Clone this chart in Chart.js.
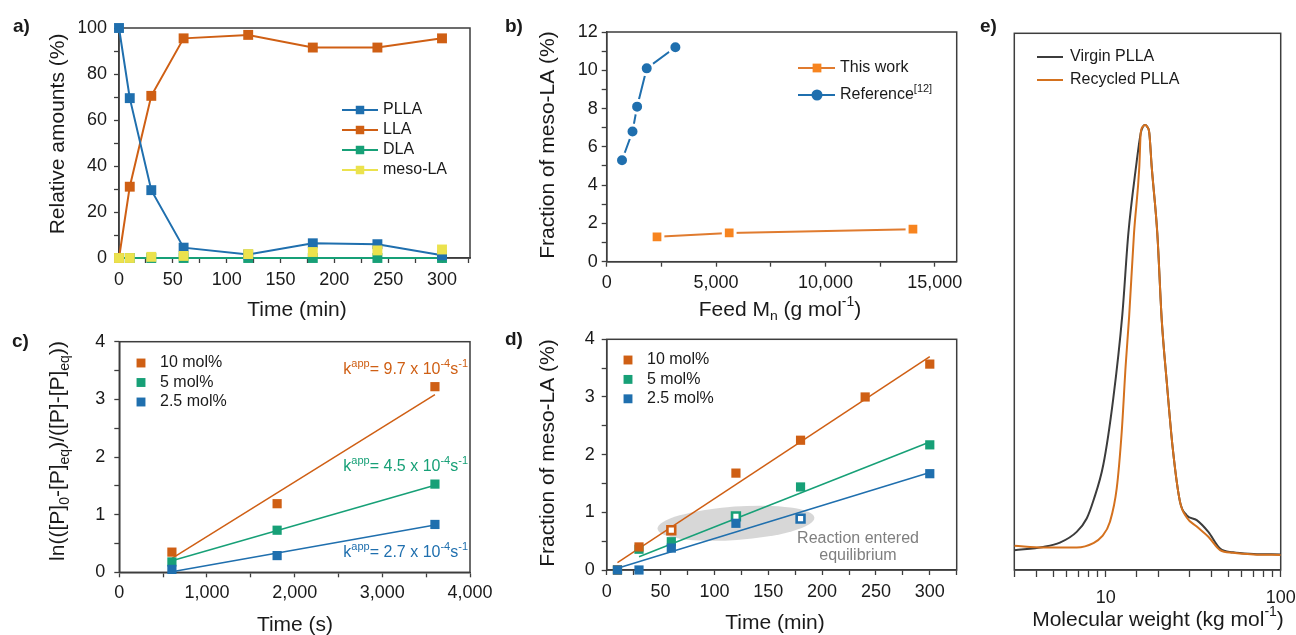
<!DOCTYPE html>
<html>
<head>
<meta charset="utf-8">
<script src="https://cdn.jsdelivr.net/npm/chart.js@4/dist/chart.umd.min.js"></script>
<style>
  html, body { margin: 0; padding: 0; background: #fff; }
  #wrap { position: relative; width: 1296px; height: 635px; overflow: hidden; }
  canvas { position: absolute; }
</style>
</head>
<body>
<div id="wrap">
  <canvas id="pa" width="500" height="320" style="left:0;top:0"></canvas>
  <canvas id="pb" width="500" height="320" style="left:480px;top:0"></canvas>
  <canvas id="pc" width="500" height="315" style="left:0;top:320px"></canvas>
  <canvas id="pd" width="500" height="315" style="left:480px;top:320px"></canvas>
  <canvas id="pe" width="336" height="635" style="left:960px;top:0"></canvas>
</div>
<script>
// a) depolymerisation over time
var a_time = [0, 10, 30, 60, 120, 180, 240, 300];
var a_plla = [100, 69.5, 29.5, 4.5, 1.5, 6.4, 6, 1.2];
var a_lla = [0, 31, 70.5, 95.5, 97, 91.5, 91.5, 95.5];
var a_dla = [0, 0, 0, 0, 0, 0, 0, 0];
var a_meso = [0, 0, 0.5, 0.9, 1.7, 2.6, 3.3, 3.7];

// b) meso-LA vs feed Mn
var b_work_mn = [2300, 5600, 14000];
var b_work_frac = [1.3, 1.5, 1.7];
var b_ref_mn = [700, 1180, 1390, 1830, 3140];
var b_ref_frac = [5.3, 6.8, 8.1, 10.1, 11.2];

// c) kinetics
var c_time = [600, 1800, 3600];
var c_10 = [0.35, 1.19, 3.22];
var c_5 = [0.18, 0.73, 1.53];
var c_25 = [0.05, 0.29, 0.83];
var c_fit_time = [600, 3600];
var c_fit10 = [0.24, 3.08];
var c_fit5 = [0.2, 1.51];
var c_fit25 = [0.01, 0.82];

// d) meso-LA over time (hollow = reaction at equilibrium)
var d_time10 = [10, 30, 60, 120, 180, 240, 300];
var d_10 = [0, 0.4, 0.69, 1.68, 2.25, 3.0, 3.57];
var d_hollow10 = [0, 0, 1, 0, 0, 0, 0];
var d_time5 = [10, 30, 60, 120, 180, 300];
var d_5 = [0, 0.36, 0.49, 0.93, 1.44, 2.17];
var d_hollow5 = [0, 0, 0, 1, 0, 0];
var d_time25 = [10, 30, 60, 120, 180, 300];
var d_25 = [0, 0, 0.38, 0.81, 0.89, 1.67];
var d_hollow25 = [0, 0, 0, 0, 1, 0];
var d_fit10_t = [10, 300], d_fit10 = [0.13, 3.7];
var d_fit5_t = [30, 300], d_fit5 = [0.23, 2.22];
var d_fit25_t = [10, 300], d_fit25 = [0.03, 1.69];

// e) GPC traces
var e_mw_virgin = [3.0, 4.39, 5.47, 6.82, 7.78, 8.49, 9.68, 11.04, 12.43, 13.46, 14.89, 15.84, 16.3, 16.76, 17.25, 17.74, 18.31, 19.71, 20.89, 22.31, 24.14, 26.57, 29.02, 33.11, 38.58, 45.0, 53.4, 70, 100];
var e_int_virgin = [3.7, 4.3, 5.1, 7.1, 9.6, 12.9, 19.6, 32, 47.5, 62.7, 75.1, 81.4, 82.6, 82.9, 82.6, 81.4, 75.1, 62.7, 46.6, 35.1, 22.7, 12.7, 10.2, 9.3, 7.1, 4.0, 3.3, 3.0, 2.9];
var e_mw_recycled = [3.0, 4.39, 6.82, 8.49, 9.48, 10.57, 11.55, 12.34, 13.0, 13.6, 14.5, 15.55, 15.84, 16.3, 16.76, 17.25, 17.74, 18.31, 19.71, 20.89, 22.31, 24.14, 26.57, 29.02, 33.11, 38.58, 45.0, 53.4, 70, 100];
var e_int_recycled = [4.5, 4.2, 4.2, 5.0, 6.2, 9.0, 15.2, 25.8, 38.2, 47.2, 62.7, 75.1, 81.4, 82.6, 82.9, 82.6, 81.4, 75.1, 62.7, 46.6, 35.1, 22.7, 12.7, 9.8, 8.1, 6.2, 3.7, 3.2, 2.9, 2.8];

// grey "equilibrium" zone in d), in data units
var eqZone = { x: 120, y: 0.81, rx: 73, ry: 0.29, tilt: -0.07 };

var FONT = '"Liberation Sans", Arial, Helvetica, sans-serif';
var AX = '#3d3d3d';
var TXT = '#1a1a1a';
var BLUE = '#1f6fae', ORANGE = '#cf5f14', GREEN = '#17a077', YELLOW = '#ebe24d';
var B_ORANGE = '#f7841f', B_LINE = '#e07b2f';
var GREY = '#3c3c3c', E_ORANGE = '#d4711e';

function pts(xs, ys) {
  return xs.map(function (x, i) { return { x: x, y: ys[i] }; });
}

function isMajor(v, m) {
  return Math.abs(v / m - Math.round(v / m)) < 1e-6;
}

function linAxis(min, max, step, major, pad, fmt) {
  fmt = fmt || function (v) { return String(v); };
  return {
    type: 'linear', min: min, max: max,
    // tick every `step`, label only on `major`
    afterBuildTicks: function (s) {
      var out = [];
      for (var i = Math.ceil(min / step - 1e-9); i * step <= max + 1e-9; i++) {
        out.push({ value: +(i * step).toFixed(6) });
      }
      s.ticks = out;
    },
    ticks: {
      autoSkip: false, maxRotation: 0, minRotation: 0,
      padding: pad, color: TXT, font: { family: FONT, size: 18 },
      callback: function (v) { return isMajor(v, major) ? fmt(v) : ''; }
    },
    grid: { drawOnChartArea: false, drawTicks: true, tickLength: 5, tickColor: AX, tickWidth: 1.3 },
    border: { display: true, color: AX, width: 1.5 }
  };
}

var thousands = function (v) { return v.toLocaleString('en-US'); };

// text with sub/superscripts: parts = ['plain', ['sup', 'sup'], ['sub', 'sub']]
function drawRich(ctx, parts, x, y, size, opt) {
  opt = opt || {};
  var align = opt.align || 'left', color = opt.color || TXT, weight = opt.bold ? 'bold ' : '';
  var segs = parts.map(function (p) { return typeof p === 'string' ? [p, ''] : p; });
  function font(k) { return weight + (k ? Math.round(size * 0.66) : size) + 'px ' + FONT; }
  var w = 0;
  segs.forEach(function (s) { ctx.font = font(s[1]); w += ctx.measureText(s[0]).width; });
  var cx = align === 'center' ? x - w / 2 : align === 'right' ? x - w : x;
  ctx.fillStyle = color;
  ctx.textAlign = 'left';
  ctx.textBaseline = 'middle';
  segs.forEach(function (s) {
    ctx.font = font(s[1]);
    var dy = s[1] === 'sup' ? -size * 0.38 : s[1] === 'sub' ? size * 0.32 : 0;
    ctx.fillText(s[0], cx, y + dy);
    cx += ctx.measureText(s[0]).width;
  });
}

function decor(spec) {
  return {
    id: 'decor',
    beforeDatasetsDraw: function (chart) {
      var ctx = chart.ctx, a = chart.chartArea;
      ctx.save();
      if (spec.before) spec.before(chart, ctx);
      ctx.strokeStyle = AX;
      ctx.lineWidth = 1.5;
      ctx.strokeRect(a.left, a.top, a.right - a.left, a.bottom - a.top);
      ctx.restore();
    },
    afterDraw: function (chart) {
      var ctx = chart.ctx;
      ctx.save();
      (spec.texts || []).forEach(function (t) {
        ctx.save();
        ctx.translate(t.x, t.y);
        if (t.rot) ctx.rotate(-Math.PI / 2);
        drawRich(ctx, t.parts, 0, 0, t.size || 16, t);
        ctx.restore();
      });
      var lg = spec.legend;
      if (lg) {
        lg.items.forEach(function (it, i) {
          var ds = chart.data.datasets[it.ds];
          var y = lg.y + i * lg.dy;
          if (lg.line) {
            ctx.strokeStyle = ds.borderColor;
            ctx.lineWidth = ds.borderWidth || 2;
            ctx.beginPath();
            ctx.moveTo(lg.x0, y);
            ctx.lineTo(lg.x1, y);
            ctx.stroke();
          }
          if (it.r) {
            ctx.fillStyle = it.color || ds.borderColor;
            Chart.helpers.drawPoint(ctx, { pointStyle: ds.pointStyle, radius: it.r, rotation: 0, borderWidth: 0 }, lg.xm, y);
          }
          drawRich(ctx, it.parts, lg.xt, y, lg.size || 16);
        });
      }
      ctx.restore();
    }
  };
}

function makeChart(id, datasets, sx, sy, area, spec) {
  var cv = document.getElementById(id);
  var yw = sy.display === false ? 0 : 40;
  sx.afterFit = function (s) { s.height = 40; s.paddingLeft = 0; s.paddingRight = 0; };
  sy.afterFit = function (s) { s.width = yw; s.paddingTop = 0; s.paddingBottom = 0; };
  return new Chart(cv, {
    type: 'scatter',
    data: { datasets: datasets },
    options: {
      responsive: false,
      animation: false,
      events: [],
      layout: { padding: { left: area[0] - yw, top: area[1], right: cv.width - area[2], bottom: cv.height - area[3] - 40 } },
      scales: { x: sx, y: sy },
      plugins: { legend: { display: false }, tooltip: { enabled: false } }
    },
    plugins: [decor(spec)]
  });
}

function squares(label, xs, ys, color, r, order, line) {
  return {
    label: label, data: pts(xs, ys), showLine: !!line, borderColor: color, backgroundColor: color,
    borderWidth: 2, pointStyle: 'rect', pointRadius: r, pointBackgroundColor: color,
    pointBorderWidth: 0, clip: false, order: order
  };
}

function fitLine(xs, ys, color) {
  return {
    data: pts(xs, ys), showLine: true, borderColor: color, borderWidth: 1.5,
    pointRadius: 0, clip: false, order: 10
  };
}

function hollowSquares(label, xs, ys, hollow, color, order) {
  return {
    label: label, data: pts(xs, ys), showLine: false, borderColor: color, pointStyle: 'rect',
    pointRadius: function (c) { return hollow[c.dataIndex] ? 5.5 : 6.5; },
    pointBackgroundColor: function (c) { return hollow[c.dataIndex] ? '#ffffff' : color; },
    pointBorderColor: color,
    pointBorderWidth: function (c) { return hollow[c.dataIndex] ? 2.6 : 0; },
    clip: false, order: order
  };
}

var T = 21; // axis title size

// ---------- a ----------
makeChart('pa', [
  squares('PLLA', a_time, a_plla, BLUE, 7, 1, true),
  squares('LLA', a_time, a_lla, ORANGE, 7, 2, true),
  squares('DLA', a_time, a_dla, GREEN, 7, 3, true),
  squares('meso-LA', a_time, a_meso, YELLOW, 7, 0, false)
], linAxis(0, 326, 25, 50, 6), linAxis(0, 100, 10, 20, 7), [119, 28, 470, 258], {
  texts: [
    { parts: ['a)'], x: 13, y: 27, size: 19, bold: true },
    { parts: ['Relative amounts (%)'], x: 58, y: 134, size: T, rot: true, align: 'center' },
    { parts: ['Time (min)'], x: 297, y: 310, size: T, align: 'center' }
  ],
  legend: {
    line: true, x0: 342, x1: 378, xm: 360, xt: 383, y: 110, dy: 20, size: 16,
    items: [
      { ds: 0, parts: ['PLLA'], r: 6 },
      { ds: 1, parts: ['LLA'], r: 6 },
      { ds: 2, parts: ['DLA'], r: 6 },
      { ds: 3, parts: ['meso-LA'], r: 6 }
    ]
  }
});

// ---------- b ----------
makeChart('pb', [
  {
    label: 'This work', data: pts(b_work_mn, b_work_frac), showLine: true, borderColor: B_LINE, borderWidth: 2,
    pointStyle: 'rect', pointRadius: 8.3, pointBackgroundColor: B_ORANGE, pointBorderColor: '#ffffff',
    pointBorderWidth: 3, clip: false
  },
  {
    label: 'Reference', data: pts(b_ref_mn, b_ref_frac), showLine: true, borderColor: BLUE, borderWidth: 2,
    pointStyle: 'circle', pointRadius: 6.5, pointBackgroundColor: BLUE, pointBorderColor: '#ffffff',
    pointBorderWidth: 3, clip: false
  }
], linAxis(0, 16000, 2500, 5000, 5.5, thousands), linAxis(0, 12, 1, 2, 4), [126.7, 32, 476.7, 261.7], {
  texts: [
    { parts: ['b)'], x: 25, y: 27, size: 19, bold: true },
    { parts: ['Fraction of meso-LA (%)'], x: 68, y: 145, size: T, rot: true, align: 'center' },
    { parts: ['Feed M', ['n', 'sub'], ' (g mol', ['-1', 'sup'], ')'], x: 300, y: 310, size: T, align: 'center' }
  ],
  legend: {
    line: true, x0: 318, x1: 355, xm: 337, xt: 360, y: 68, dy: 27, size: 16,
    items: [
      { ds: 0, parts: ['This work'], r: 6.2, color: B_ORANGE },
      { ds: 1, parts: ['Reference', ['[12]', 'sup']], r: 5.5 }
    ]
  }
});

// ---------- c ----------
makeChart('pc', [
  squares('10 mol%', c_time, c_10, ORANGE, 6.5, 0),
  squares('5 mol%', c_time, c_5, GREEN, 6.5, 2),
  squares('2.5 mol%', c_time, c_25, BLUE, 6.5, 1),
  fitLine(c_fit_time, c_fit10, ORANGE),
  fitLine(c_fit_time, c_fit5, GREEN),
  fitLine(c_fit_time, c_fit25, BLUE)
], linAxis(0, 4000, 500, 1000, 5, thousands), linAxis(0, 4, 0.5, 1, 9), [119.3, 21.7, 470, 252.3], {
  texts: [
    { parts: ['c)'], x: 12, y: 22, size: 19, bold: true },
    { parts: ['ln(([P]', ['0', 'sub'], '-[P]', ['eq', 'sub'], ')/([P]-[P]', ['eq', 'sub'], '))'], x: 58, y: 131, size: T, rot: true, align: 'center' },
    { parts: ['Time (s)'], x: 295, y: 305, size: T, align: 'center' },
    { parts: ['k', ['app', 'sup'], '= 9.7 x 10', ['-4', 'sup'], 's', ['-1', 'sup']], x: 468, y: 50, size: 16, align: 'right', color: ORANGE },
    { parts: ['k', ['app', 'sup'], '= 4.5 x 10', ['-4', 'sup'], 's', ['-1', 'sup']], x: 468, y: 147, size: 16, align: 'right', color: GREEN },
    { parts: ['k', ['app', 'sup'], '= 2.7 x 10', ['-4', 'sup'], 's', ['-1', 'sup']], x: 468, y: 233, size: 16, align: 'right', color: BLUE }
  ],
  legend: {
    line: false, xm: 141, xt: 160, y: 43, dy: 19.5, size: 16,
    items: [
      { ds: 0, parts: ['10 mol%'], r: 6.3 },
      { ds: 1, parts: ['5 mol%'], r: 6.3 },
      { ds: 2, parts: ['2.5 mol%'], r: 6.3 }
    ]
  }
});

// ---------- d ----------
makeChart('pd', [
  hollowSquares('10 mol%', d_time10, d_10, d_hollow10, ORANGE, 1),
  hollowSquares('5 mol%', d_time5, d_5, d_hollow5, GREEN, 2),
  hollowSquares('2.5 mol%', d_time25, d_25, d_hollow25, BLUE, 0),
  fitLine(d_fit10_t, d_fit10, ORANGE),
  fitLine(d_fit5_t, d_fit5, GREEN),
  fitLine(d_fit25_t, d_fit25, BLUE)
], linAxis(0, 325, 25, 50, 6), linAxis(0, 4, 0.5, 1, 7), [126.7, 19.3, 476.7, 250], {
  before: function (chart, ctx) {
    var sx = chart.scales.x, sy = chart.scales.y;
    var cx = sx.getPixelForValue(eqZone.x), cy = sy.getPixelForValue(eqZone.y);
    var rx = sx.getPixelForValue(eqZone.x + eqZone.rx) - cx;
    var ry = cy - sy.getPixelForValue(eqZone.y + eqZone.ry);
    ctx.fillStyle = 'rgba(205,205,205,0.8)';
    ctx.beginPath();
    ctx.ellipse(cx, cy, rx, ry, eqZone.tilt, 0, Math.PI * 2);
    ctx.fill();
  },
  texts: [
    { parts: ['d)'], x: 25, y: 20, size: 19, bold: true },
    { parts: ['Fraction of meso-LA (%)'], x: 68, y: 133, size: T, rot: true, align: 'center' },
    { parts: ['Time (min)'], x: 295, y: 303, size: T, align: 'center' },
    { parts: ['Reaction entered'], x: 378, y: 219, size: 16, align: 'center', color: '#7f7f7f' },
    { parts: ['equilibrium'], x: 378, y: 236, size: 16, align: 'center', color: '#7f7f7f' }
  ],
  legend: {
    line: false, xm: 148, xt: 167, y: 40, dy: 19.4, size: 16,
    items: [
      { ds: 0, parts: ['10 mol%'], r: 6.3 },
      { ds: 1, parts: ['5 mol%'], r: 6.3 },
      { ds: 2, parts: ['2.5 mol%'], r: 6.3 }
    ]
  }
});

// ---------- e ----------
var eX = {
  type: 'logarithmic', min: 3, max: 100,
  ticks: {
    autoSkip: false, maxRotation: 0, minRotation: 0, padding: 10, color: TXT, font: { family: FONT, size: 18 },
    callback: function (v) { return (Math.abs(v - 10) < 1e-6 || Math.abs(v - 100) < 1e-6) ? String(v) : ''; }
  },
  grid: { drawOnChartArea: false, drawTicks: true, tickLength: 7, tickColor: AX, tickWidth: 1.3 },
  border: { display: true, color: AX, width: 1.5 }
};
var eY = { type: 'linear', min: 0, max: 100, display: false };
makeChart('pe', [
  {
    label: 'Recycled PLLA', data: pts(e_mw_recycled, e_int_recycled), showLine: true, borderColor: E_ORANGE,
    borderWidth: 2, pointRadius: 0, cubicInterpolationMode: 'monotone', order: 0
  },
  {
    label: 'Virgin PLLA', data: pts(e_mw_virgin, e_int_virgin), showLine: true, borderColor: GREY,
    borderWidth: 2, pointRadius: 0, cubicInterpolationMode: 'monotone', order: 1
  }
], eX, eY, [54.3, 33.3, 320.7, 570], {
  texts: [
    { parts: ['e)'], x: 20, y: 27, size: 19, bold: true },
    { parts: ['Molecular weight (kg mol', ['-1', 'sup'], ')'], x: 198, y: 620, size: T, align: 'center' }
  ],
  legend: {
    line: true, x0: 77, x1: 103, xt: 110, y: 57, dy: 23, size: 16,
    items: [
      { ds: 1, parts: ['Virgin PLLA'] },
      { ds: 0, parts: ['Recycled PLLA'] }
    ]
  }
});
</script>
</body>
</html>
